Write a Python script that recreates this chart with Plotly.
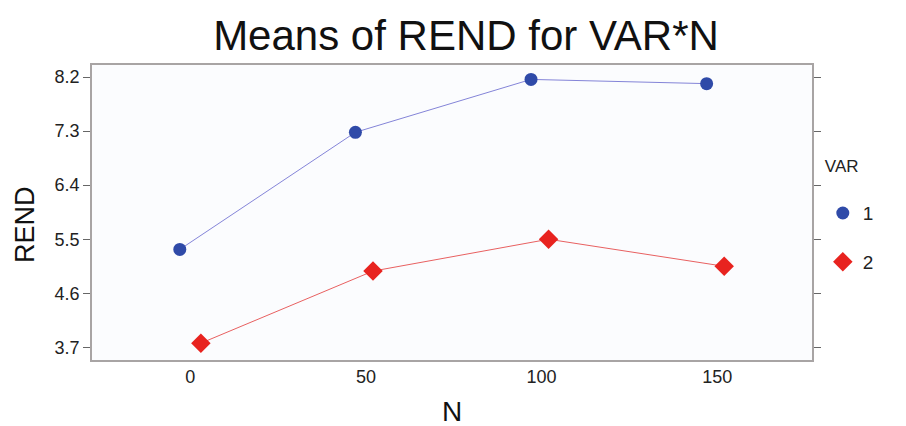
import plotly.graph_objects as go

# means (points are dodged slightly around each N)
n_var1 = [-3, 47, 97, 147]
rend_var1 = [5.33, 7.28, 8.16, 8.09]
n_var2 = [3, 52, 102, 152]
rend_var2 = [3.77, 4.97, 5.50, 5.05]

x_ticks = [0, 50, 100, 150]
y_ticks = [3.7, 4.6, 5.5, 6.4, 7.3, 8.2]

fig = go.Figure()

# connecting lines (kept out of the legend so it shows markers only)
fig.add_trace(go.Scatter(x=n_var1, y=rend_var1, mode='lines', showlegend=False,
                         line=dict(color='#8484d8', width=1), hoverinfo='skip'))
fig.add_trace(go.Scatter(x=n_var2, y=rend_var2, mode='lines', showlegend=False,
                         line=dict(color='#e86060', width=1), hoverinfo='skip'))

fig.add_trace(go.Scatter(x=n_var1, y=rend_var1, mode='markers', name='1',
                         legendgroup='a',
                         marker=dict(color='#2f4aa8', size=13, symbol='circle')))
fig.add_trace(go.Scatter(x=n_var2, y=rend_var2, mode='markers', name='2',
                         legendgroup='b',
                         marker=dict(color='#e8231f', size=15, symbol='diamond')))

axis_font = dict(family='Liberation Sans, Arial', size=18, color='#222')

# page body has an 8px margin, so the figure is shifted by 8px
fig.update_layout(
    width=898, height=418,
    margin=dict(l=84, r=94, t=57, b=66),
    paper_bgcolor='white',
    plot_bgcolor='#fbfcfe',
    font=dict(family='Liberation Sans, Arial', color='#222'),
    title=dict(text='Means of REND for VAR*N', x=0.51, xanchor='center',
               y=0.935, yanchor='middle',
               font=dict(size=42, color='#111')),
    legend=dict(title=dict(text='VAR<br> ', font=dict(size=17)),
                font=dict(size=19), x=1.015, xanchor='left',
                y=0.712, yanchor='top', tracegroupgap=21,
                traceorder='grouped', bgcolor='rgba(0,0,0,0)'),
    xaxis=dict(range=[-28, 177], tickvals=x_ticks, ticks='',
               showgrid=False, zeroline=False, showline=True,
               linecolor='#a8a4a4', linewidth=1.5, mirror=True,
               tickfont=axis_font, automargin=False),
    yaxis=dict(range=[3.49, 8.40], tickvals=y_ticks,
               ticktext=[f'{v:.1f}' for v in y_ticks],
               ticks='outside', ticklen=7, tickcolor='#666',
               showgrid=False, zeroline=False, showline=True,
               linecolor='#a8a4a4', linewidth=1.5, mirror='ticks',
               tickfont=axis_font, automargin=False),
)

# axis titles placed by hand to sit where the original has them
fig.add_annotation(text='N', xref='paper', yref='paper', x=0.5, y=-0.175,
                   xanchor='center', yanchor='middle', showarrow=False,
                   font=dict(size=28, color='#111'))
fig.add_annotation(text='REND', xref='paper', yref='paper', x=-0.093, y=0.458,
                   xanchor='center', yanchor='middle', showarrow=False,
                   textangle=-90, font=dict(size=27, color='#111'))

fig.write_html("out.html")
